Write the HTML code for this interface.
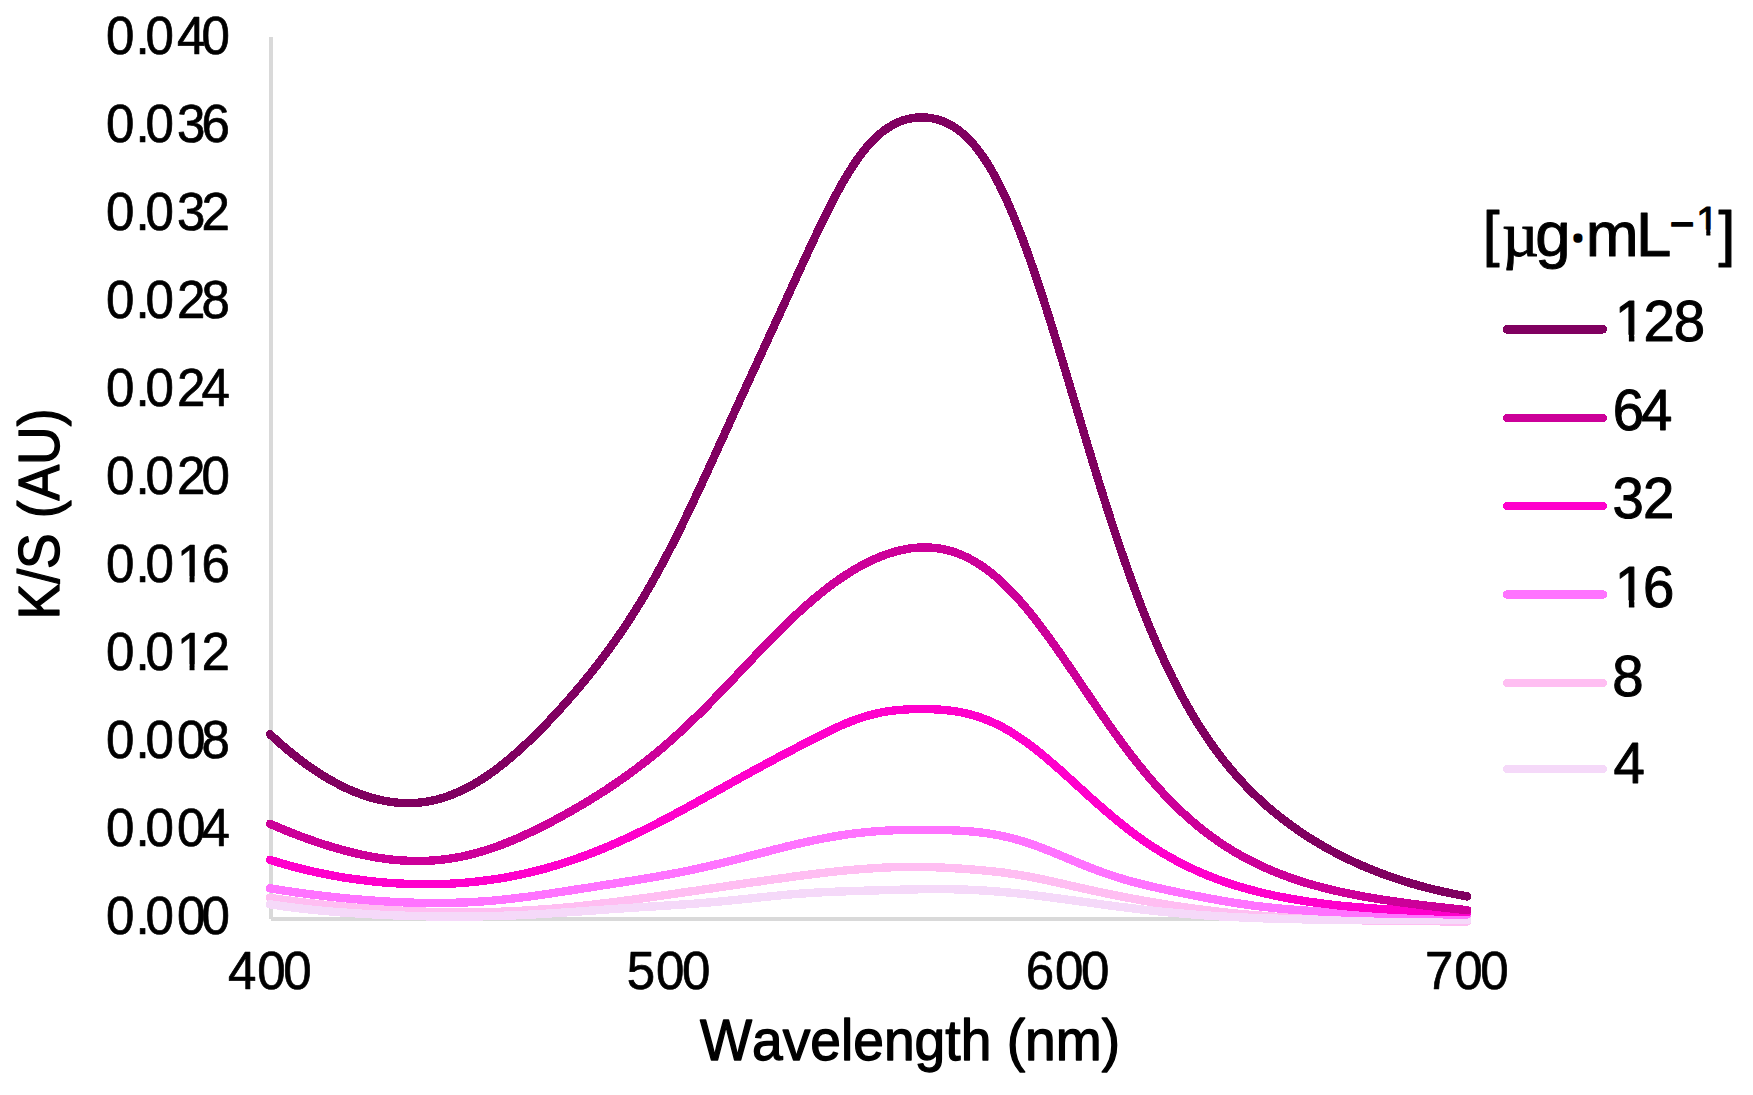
<!DOCTYPE html>
<html lang="en">
<head>
<meta charset="utf-8">
<title>K/S spectra</title>
<style>
html,body{margin:0;padding:0;background:#fff;}
body{width:1753px;height:1095px;overflow:hidden;}
svg{display:block;}
text{font-family:"Liberation Sans",sans-serif;fill:#000;stroke:#000;stroke-width:0.7px;stroke-linejoin:round;font-kerning:none;}
.tick{font-size:52.9px;}
.ttl{font-size:56.6px;stroke-width:1.3px;}
.leg{font-size:57.5px;stroke-width:1px;}
.lt{font-size:63.5px;stroke-width:1px;}
.curve{fill:none;stroke-width:8.4;stroke-linecap:round;stroke-linejoin:round;}
</style>
</head>
<body>
<svg width="1753" height="1095" viewBox="0 0 1753 1095">
<rect x="0" y="0" width="1753" height="1095" fill="#ffffff"/>
<defs>
<clipPath id="c1"><path clip-rule="evenodd" d="M0 0H1753V1095H0Z M178.8 576.33H189.59V584H178.8Z M194.51 576.33H203.89V584H194.51Z"/></clipPath>
<clipPath id="c2"><path clip-rule="evenodd" d="M0 0H1753V1095H0Z M178.8 664.33H189.59V672H178.8Z M194.51 664.33H203.89V672H194.51Z"/></clipPath>
<clipPath id="c3"><path clip-rule="evenodd" d="M0 0H1753V1095H0Z M1697.25 229.41H1706.31V236.2H1697.25Z M1710.37 229.41H1718.1V236.2H1710.37Z"/></clipPath>
<clipPath id="c4"><path clip-rule="evenodd" d="M0 0H1753V1095H0Z M1617.13 334.77H1628.9V342.8H1617.13Z M1634.31 334.77H1644.63V342.8H1634.31Z"/></clipPath>
<clipPath id="c5"><path clip-rule="evenodd" d="M0 0H1753V1095H0Z M1617.13 600.37H1628.9V608.4H1617.13Z M1634.31 600.37H1644.63V608.4H1634.31Z"/></clipPath>
</defs>
<!-- axes -->
<g shape-rendering="crispEdges">
<rect x="269" y="37" width="4" height="882" fill="#d9d9d9"/>
<rect x="271" y="917" width="1198" height="4" fill="#d9d9d9"/>
</g>
<!-- y tick labels -->
<text class="tick" transform="scale(0.965,1)" x="109.84 140.31 150.78 183.32 208.91" y="54.5">0.040</text>
<text class="tick" transform="scale(0.965,1)" x="109.84 140.31 150.78 183.32 208.91" y="142.5">0.036</text>
<text class="tick" transform="scale(0.965,1)" x="109.84 140.31 150.78 183.32 208.91" y="230.5">0.032</text>
<text class="tick" transform="scale(0.965,1)" x="109.84 140.31 150.78 183.32 208.91" y="318.5">0.028</text>
<text class="tick" transform="scale(0.965,1)" x="109.84 140.31 150.78 183.32 208.91" y="406.5">0.024</text>
<text class="tick" transform="scale(0.965,1)" x="109.84 140.31 150.78 183.32 208.91" y="494.5">0.020</text>
<g clip-path="url(#c1)"><text class="tick" transform="scale(0.965,1)" x="109.84 140.31 150.78 183.32 208.91" y="582.5">0.016</text></g>
<g clip-path="url(#c2)"><text class="tick" transform="scale(0.965,1)" x="109.84 140.31 150.78 183.32 208.91" y="670.5">0.012</text></g>
<text class="tick" transform="scale(0.965,1)" x="109.84 140.31 150.78 183.32 208.91" y="758.5">0.008</text>
<text class="tick" transform="scale(0.965,1)" x="109.84 140.31 150.78 183.32 208.91" y="846.5">0.004</text>
<text class="tick" transform="scale(0.965,1)" x="109.84 140.31 150.78 183.32 208.91" y="934.5">0.000</text>
<!-- x tick labels -->
<text class="tick" transform="scale(0.965,1)" x="236.27 266.63 293.58" y="988.7">400</text>
<text class="tick" transform="scale(0.965,1)" x="649.53 679.9 706.84" y="988.7">500</text>
<text class="tick" transform="scale(0.965,1)" x="1063.01 1093.37 1120.31" y="988.7">600</text>
<text class="tick" transform="scale(0.965,1)" x="1476.68 1507.05 1533.99" y="988.7">700</text>
<!-- axis titles -->
<g transform="translate(700,1060) scale(0.975,1)"><text class="ttl" x="0" y="0">Wavelength (nm)</text></g>
<g transform="translate(58.7,619.4) rotate(-90) scale(0.945,1)"><text class="ttl" x="0" y="0">K/S (AU)</text></g>
<!-- curves -->
<g shape-rendering="crispEdges">
<path class="curve" stroke="#ffbef2" d="M270.0 897.8 L273.0 898.2 L276.0 898.7 L279.0 899.1 L282.0 899.6 L285.0 900.0 L288.0 900.4 L291.0 900.8 L294.0 901.2 L297.0 901.6 L300.0 901.9 L303.0 902.3 L306.0 902.7 L309.0 903.0 L312.0 903.4 L315.0 903.7 L318.0 904.1 L321.0 904.4 L324.0 904.7 L327.0 905.0 L330.0 905.3 L333.0 905.6 L336.0 905.9 L339.0 906.2 L342.0 906.5 L345.0 906.7 L348.0 907.0 L351.0 907.3 L354.0 907.5 L357.0 907.8 L360.0 908.0 L363.0 908.2 L366.0 908.5 L369.0 908.7 L372.0 908.9 L375.0 909.1 L378.0 909.3 L381.0 909.5 L384.0 909.7 L387.0 909.9 L390.0 910.1 L393.0 910.2 L396.0 910.4 L399.0 910.5 L402.0 910.7 L405.0 910.8 L408.0 911.0 L411.0 911.1 L414.0 911.2 L417.0 911.4 L420.0 911.5 L423.0 911.6 L426.0 911.7 L429.0 911.8 L432.0 911.8 L435.0 911.9 L438.0 912.0 L441.0 912.1 L444.0 912.1 L447.0 912.2 L450.0 912.2 L453.0 912.2 L456.0 912.2 L459.0 912.3 L462.0 912.3 L465.0 912.3 L468.0 912.3 L471.0 912.3 L474.0 912.2 L477.0 912.2 L480.0 912.2 L483.0 912.1 L486.0 912.1 L489.0 912.0 L492.0 911.9 L495.0 911.8 L498.0 911.8 L501.0 911.7 L504.0 911.5 L507.0 911.4 L510.0 911.3 L513.0 911.2 L516.0 911.0 L519.0 910.9 L522.0 910.7 L525.0 910.6 L528.0 910.4 L531.0 910.2 L534.0 910.0 L537.0 909.8 L540.0 909.6 L543.0 909.4 L546.0 909.1 L549.0 908.9 L552.0 908.7 L555.0 908.4 L558.0 908.2 L561.0 907.9 L564.0 907.6 L567.0 907.3 L570.0 907.1 L573.0 906.8 L576.0 906.5 L579.0 906.1 L582.0 905.8 L585.0 905.5 L588.0 905.2 L591.0 904.8 L594.0 904.5 L597.0 904.2 L600.0 903.8 L603.0 903.4 L606.0 903.1 L609.0 902.7 L612.0 902.3 L615.0 902.0 L618.0 901.6 L621.0 901.2 L624.0 900.8 L627.0 900.4 L630.0 900.0 L633.0 899.6 L636.0 899.2 L639.0 898.8 L642.0 898.4 L645.0 898.0 L648.0 897.6 L651.0 897.1 L654.0 896.7 L657.0 896.3 L660.0 895.9 L663.0 895.4 L666.0 895.0 L669.0 894.6 L672.0 894.1 L675.0 893.7 L678.0 893.3 L681.0 892.8 L684.0 892.4 L687.0 892.0 L690.0 891.5 L693.0 891.1 L696.0 890.7 L699.0 890.2 L702.0 889.8 L705.0 889.3 L708.0 888.9 L711.0 888.5 L714.0 888.0 L717.0 887.6 L720.0 887.1 L723.0 886.7 L726.0 886.3 L729.0 885.8 L732.0 885.4 L735.0 884.9 L738.0 884.5 L741.0 884.1 L744.0 883.6 L747.0 883.2 L750.0 882.8 L753.0 882.3 L756.0 881.9 L759.0 881.5 L762.0 881.0 L765.0 880.6 L768.0 880.2 L771.0 879.7 L774.0 879.3 L777.0 878.9 L780.0 878.5 L783.0 878.1 L786.0 877.7 L789.0 877.2 L792.0 876.8 L795.0 876.4 L798.0 876.0 L801.0 875.6 L804.0 875.3 L807.0 874.9 L810.0 874.5 L813.0 874.1 L816.0 873.7 L819.0 873.4 L822.0 873.0 L825.0 872.7 L828.0 872.3 L831.0 872.0 L834.0 871.7 L837.0 871.3 L840.0 871.0 L843.0 870.7 L846.0 870.4 L849.0 870.1 L852.0 869.9 L855.0 869.6 L858.0 869.4 L861.0 869.1 L864.0 868.9 L867.0 868.7 L870.0 868.4 L873.0 868.3 L876.0 868.1 L879.0 867.9 L882.0 867.7 L885.0 867.6 L888.0 867.5 L891.0 867.3 L894.0 867.2 L897.0 867.1 L900.0 867.1 L903.0 867.0 L906.0 867.0 L909.0 866.9 L912.0 866.9 L915.0 866.9 L918.0 866.9 L921.0 867.0 L924.0 867.0 L927.0 867.1 L930.0 867.1 L933.0 867.2 L936.0 867.3 L939.0 867.4 L942.0 867.6 L945.0 867.7 L948.0 867.8 L951.0 868.0 L954.0 868.2 L957.0 868.4 L960.0 868.6 L963.0 868.8 L966.0 869.0 L969.0 869.2 L972.0 869.4 L975.0 869.7 L978.0 869.9 L981.0 870.2 L984.0 870.5 L987.0 870.8 L990.0 871.1 L993.0 871.4 L996.0 871.7 L999.0 872.1 L1002.0 872.4 L1005.0 872.8 L1008.0 873.2 L1011.0 873.7 L1014.0 874.1 L1017.0 874.6 L1020.0 875.1 L1023.0 875.6 L1026.0 876.1 L1029.0 876.6 L1032.0 877.2 L1035.0 877.8 L1038.0 878.4 L1041.0 879.0 L1044.0 879.6 L1047.0 880.3 L1050.0 880.9 L1053.0 881.6 L1056.0 882.3 L1059.0 883.0 L1062.0 883.6 L1065.0 884.3 L1068.0 885.0 L1071.0 885.7 L1074.0 886.4 L1077.0 887.1 L1080.0 887.7 L1083.0 888.4 L1086.0 889.1 L1089.0 889.7 L1092.0 890.4 L1095.0 891.0 L1098.0 891.7 L1101.0 892.3 L1104.0 893.0 L1107.0 893.6 L1110.0 894.2 L1113.0 894.8 L1116.0 895.4 L1119.0 896.0 L1122.0 896.6 L1125.0 897.2 L1128.0 897.7 L1131.0 898.3 L1134.0 898.9 L1137.0 899.4 L1140.0 900.0 L1143.0 900.5 L1146.0 901.1 L1149.0 901.6 L1152.0 902.1 L1155.0 902.6 L1158.0 903.1 L1161.0 903.6 L1164.0 904.1 L1167.0 904.6 L1170.0 905.1 L1173.0 905.6 L1176.0 906.0 L1179.0 906.5 L1182.0 906.9 L1185.0 907.4 L1188.0 907.8 L1191.0 908.2 L1194.0 908.6 L1197.0 909.0 L1200.0 909.4 L1203.0 909.8 L1206.0 910.2 L1209.0 910.5 L1212.0 910.9 L1215.0 911.3 L1218.0 911.6 L1221.0 911.9 L1224.0 912.3 L1227.0 912.6 L1230.0 912.9 L1233.0 913.2 L1236.0 913.5 L1239.0 913.8 L1242.0 914.1 L1245.0 914.3 L1248.0 914.6 L1251.0 914.9 L1254.0 915.1 L1257.0 915.4 L1260.0 915.6 L1263.0 915.8 L1266.0 916.1 L1269.0 916.3 L1272.0 916.5 L1275.0 916.7 L1278.0 916.9 L1281.0 917.1 L1284.0 917.3 L1287.0 917.4 L1290.0 917.6 L1293.0 917.8 L1296.0 917.9 L1299.0 918.1 L1302.0 918.2 L1305.0 918.4 L1308.0 918.5 L1311.0 918.6 L1314.0 918.8 L1317.0 918.9 L1320.0 919.0 L1323.0 919.1 L1326.0 919.2 L1329.0 919.3 L1332.0 919.5 L1335.0 919.5 L1338.0 919.6 L1341.0 919.7 L1344.0 919.8 L1347.0 919.9 L1350.0 920.0 L1353.0 920.1 L1356.0 920.1 L1359.0 920.2 L1362.0 920.3 L1365.0 920.3 L1368.0 920.4 L1371.0 920.5 L1374.0 920.5 L1377.0 920.6 L1380.0 920.6 L1383.0 920.7 L1386.0 920.7 L1389.0 920.8 L1392.0 920.8 L1395.0 920.8 L1398.0 920.9 L1401.0 920.9 L1404.0 920.9 L1407.0 921.0 L1410.0 921.0 L1413.0 921.0 L1416.0 921.1 L1419.0 921.1 L1422.0 921.1 L1425.0 921.1 L1428.0 921.2 L1431.0 921.2 L1434.0 921.2 L1437.0 921.2 L1440.0 921.3 L1443.0 921.3 L1446.0 921.3 L1449.0 921.3 L1452.0 921.3 L1455.0 921.3 L1458.0 921.3 L1461.0 921.4 L1464.0 921.4 L1467.3 921.4"/>
<path class="curve" stroke="#f5d9f9" d="M270.0 904.3 L273.0 904.7 L276.0 905.2 L279.0 905.6 L282.0 906.1 L285.0 906.5 L288.0 906.9 L291.0 907.3 L294.0 907.6 L297.0 908.0 L300.0 908.4 L303.0 908.7 L306.0 909.1 L309.0 909.4 L312.0 909.7 L315.0 910.0 L318.0 910.3 L321.0 910.6 L324.0 910.9 L327.0 911.1 L330.0 911.4 L333.0 911.7 L336.0 911.9 L339.0 912.2 L342.0 912.4 L345.0 912.6 L348.0 912.8 L351.0 913.0 L354.0 913.2 L357.0 913.4 L360.0 913.6 L363.0 913.8 L366.0 914.0 L369.0 914.2 L372.0 914.3 L375.0 914.5 L378.0 914.6 L381.0 914.8 L384.0 914.9 L387.0 915.0 L390.0 915.2 L393.0 915.3 L396.0 915.4 L399.0 915.5 L402.0 915.6 L405.0 915.7 L408.0 915.8 L411.0 915.9 L414.0 916.0 L417.0 916.1 L420.0 916.1 L423.0 916.2 L426.0 916.3 L429.0 916.3 L432.0 916.4 L435.0 916.4 L438.0 916.5 L441.0 916.5 L444.0 916.5 L447.0 916.5 L450.0 916.5 L453.0 916.6 L456.0 916.6 L459.0 916.5 L462.0 916.5 L465.0 916.5 L468.0 916.5 L471.0 916.5 L474.0 916.4 L477.0 916.4 L480.0 916.3 L483.0 916.3 L486.0 916.2 L489.0 916.2 L492.0 916.1 L495.0 916.0 L498.0 915.9 L501.0 915.8 L504.0 915.7 L507.0 915.6 L510.0 915.5 L513.0 915.4 L516.0 915.3 L519.0 915.1 L522.0 915.0 L525.0 914.8 L528.0 914.7 L531.0 914.5 L534.0 914.4 L537.0 914.2 L540.0 914.0 L543.0 913.9 L546.0 913.7 L549.0 913.5 L552.0 913.3 L555.0 913.1 L558.0 912.9 L561.0 912.7 L564.0 912.5 L567.0 912.3 L570.0 912.1 L573.0 911.9 L576.0 911.7 L579.0 911.5 L582.0 911.3 L585.0 911.1 L588.0 910.8 L591.0 910.6 L594.0 910.4 L597.0 910.2 L600.0 910.0 L603.0 909.8 L606.0 909.6 L609.0 909.3 L612.0 909.1 L615.0 908.9 L618.0 908.7 L621.0 908.5 L624.0 908.3 L627.0 908.1 L630.0 907.9 L633.0 907.7 L636.0 907.5 L639.0 907.3 L642.0 907.1 L645.0 906.9 L648.0 906.7 L651.0 906.6 L654.0 906.4 L657.0 906.2 L660.0 906.0 L663.0 905.8 L666.0 905.6 L669.0 905.4 L672.0 905.2 L675.0 905.0 L678.0 904.8 L681.0 904.6 L684.0 904.4 L687.0 904.2 L690.0 904.0 L693.0 903.8 L696.0 903.5 L699.0 903.3 L702.0 903.1 L705.0 902.8 L708.0 902.6 L711.0 902.3 L714.0 902.1 L717.0 901.8 L720.0 901.5 L723.0 901.2 L726.0 900.9 L729.0 900.6 L732.0 900.3 L735.0 900.0 L738.0 899.7 L741.0 899.4 L744.0 899.1 L747.0 898.8 L750.0 898.5 L753.0 898.1 L756.0 897.8 L759.0 897.5 L762.0 897.2 L765.0 896.9 L768.0 896.6 L771.0 896.3 L774.0 896.0 L777.0 895.7 L780.0 895.4 L783.0 895.1 L786.0 894.8 L789.0 894.6 L792.0 894.3 L795.0 894.1 L798.0 893.8 L801.0 893.6 L804.0 893.4 L807.0 893.2 L810.0 893.0 L813.0 892.8 L816.0 892.6 L819.0 892.5 L822.0 892.3 L825.0 892.2 L828.0 892.0 L831.0 891.9 L834.0 891.8 L837.0 891.6 L840.0 891.5 L843.0 891.4 L846.0 891.3 L849.0 891.2 L852.0 891.1 L855.0 891.0 L858.0 890.9 L861.0 890.8 L864.0 890.7 L867.0 890.6 L870.0 890.5 L873.0 890.4 L876.0 890.3 L879.0 890.3 L882.0 890.2 L885.0 890.1 L888.0 890.0 L891.0 889.9 L894.0 889.8 L897.0 889.7 L900.0 889.7 L903.0 889.6 L906.0 889.5 L909.0 889.4 L912.0 889.4 L915.0 889.3 L918.0 889.3 L921.0 889.2 L924.0 889.2 L927.0 889.2 L930.0 889.1 L933.0 889.1 L936.0 889.1 L939.0 889.1 L942.0 889.1 L945.0 889.2 L948.0 889.2 L951.0 889.2 L954.0 889.3 L957.0 889.4 L960.0 889.4 L963.0 889.5 L966.0 889.6 L969.0 889.8 L972.0 889.9 L975.0 890.0 L978.0 890.2 L981.0 890.4 L984.0 890.5 L987.0 890.7 L990.0 890.9 L993.0 891.2 L996.0 891.4 L999.0 891.6 L1002.0 891.9 L1005.0 892.2 L1008.0 892.4 L1011.0 892.7 L1014.0 893.0 L1017.0 893.3 L1020.0 893.7 L1023.0 894.0 L1026.0 894.3 L1029.0 894.7 L1032.0 895.0 L1035.0 895.4 L1038.0 895.7 L1041.0 896.1 L1044.0 896.5 L1047.0 896.9 L1050.0 897.3 L1053.0 897.7 L1056.0 898.1 L1059.0 898.5 L1062.0 898.9 L1065.0 899.3 L1068.0 899.7 L1071.0 900.1 L1074.0 900.5 L1077.0 900.9 L1080.0 901.4 L1083.0 901.8 L1086.0 902.2 L1089.0 902.6 L1092.0 903.0 L1095.0 903.4 L1098.0 903.9 L1101.0 904.3 L1104.0 904.7 L1107.0 905.1 L1110.0 905.5 L1113.0 905.9 L1116.0 906.3 L1119.0 906.7 L1122.0 907.0 L1125.0 907.4 L1128.0 907.8 L1131.0 908.2 L1134.0 908.5 L1137.0 908.9 L1140.0 909.3 L1143.0 909.6 L1146.0 910.0 L1149.0 910.3 L1152.0 910.6 L1155.0 910.9 L1158.0 911.3 L1161.0 911.6 L1164.0 911.9 L1167.0 912.2 L1170.0 912.5 L1173.0 912.7 L1176.0 913.0 L1179.0 913.3 L1182.0 913.6 L1185.0 913.8 L1188.0 914.1 L1191.0 914.3 L1194.0 914.5 L1197.0 914.8 L1200.0 915.0 L1203.0 915.2 L1206.0 915.4 L1209.0 915.6 L1212.0 915.8 L1215.0 916.0 L1218.0 916.2 L1221.0 916.4 L1224.0 916.5 L1227.0 916.7 L1230.0 916.9 L1233.0 917.0 L1236.0 917.2 L1239.0 917.3 L1242.0 917.4 L1245.0 917.6 L1248.0 917.7 L1251.0 917.8 L1254.0 917.9 L1257.0 918.1 L1260.0 918.2 L1263.0 918.3 L1266.0 918.4 L1269.0 918.5 L1272.0 918.5 L1275.0 918.6 L1278.0 918.7 L1281.0 918.8 L1284.0 918.9 L1287.0 918.9 L1290.0 919.0 L1293.0 919.1 L1296.0 919.1 L1299.0 919.2 L1302.0 919.3 L1305.0 919.3 L1308.0 919.4 L1311.0 919.4 L1314.0 919.4 L1317.0 919.5 L1320.0 919.5 L1323.0 919.6 L1326.0 919.6 L1329.0 919.6 L1332.0 919.7 L1335.0 919.7 L1338.0 919.7 L1341.0 919.8 L1344.0 919.8 L1347.0 919.8 L1350.0 919.8 L1353.0 919.9 L1356.0 919.9 L1359.0 919.9 L1362.0 919.9 L1365.0 919.9 L1368.0 919.9 L1371.0 920.0 L1374.0 920.0 L1377.0 920.0 L1380.0 920.0 L1383.0 920.0 L1386.0 920.0 L1389.0 920.0 L1392.0 920.0 L1395.0 920.1 L1398.0 920.1 L1401.0 920.1 L1404.0 920.1 L1407.0 920.1 L1410.0 920.1 L1413.0 920.1 L1416.0 920.1 L1419.0 920.1 L1422.0 920.1 L1425.0 920.1 L1428.0 920.1 L1431.0 920.1 L1434.0 920.1 L1437.0 920.1 L1440.0 920.1 L1443.0 920.1 L1446.0 920.1 L1449.0 920.1 L1452.0 920.1 L1455.0 920.1 L1458.0 920.1 L1461.0 920.1 L1464.0 920.1 L1467.3 920.1"/>
<path class="curve" stroke="#ff73ff" d="M270.0 888.2 L273.0 888.7 L276.0 889.2 L279.0 889.7 L282.0 890.2 L285.0 890.7 L288.0 891.1 L291.0 891.6 L294.0 892.0 L297.0 892.5 L300.0 892.9 L303.0 893.3 L306.0 893.7 L309.0 894.1 L312.0 894.5 L315.0 894.9 L318.0 895.2 L321.0 895.6 L324.0 896.0 L327.0 896.3 L330.0 896.6 L333.0 897.0 L336.0 897.3 L339.0 897.6 L342.0 897.9 L345.0 898.2 L348.0 898.5 L351.0 898.8 L354.0 899.0 L357.0 899.3 L360.0 899.6 L363.0 899.8 L366.0 900.0 L369.0 900.3 L372.0 900.5 L375.0 900.7 L378.0 900.9 L381.0 901.1 L384.0 901.3 L387.0 901.5 L390.0 901.7 L393.0 901.8 L396.0 902.0 L399.0 902.1 L402.0 902.2 L405.0 902.4 L408.0 902.5 L411.0 902.6 L414.0 902.7 L417.0 902.8 L420.0 902.8 L423.0 902.9 L426.0 902.9 L429.0 903.0 L432.0 903.0 L435.0 903.0 L438.0 903.0 L441.0 903.0 L444.0 903.0 L447.0 902.9 L450.0 902.9 L453.0 902.8 L456.0 902.7 L459.0 902.6 L462.0 902.5 L465.0 902.4 L468.0 902.3 L471.0 902.1 L474.0 901.9 L477.0 901.8 L480.0 901.6 L483.0 901.4 L486.0 901.1 L489.0 900.9 L492.0 900.7 L495.0 900.4 L498.0 900.1 L501.0 899.8 L504.0 899.5 L507.0 899.2 L510.0 898.9 L513.0 898.5 L516.0 898.2 L519.0 897.8 L522.0 897.4 L525.0 897.1 L528.0 896.7 L531.0 896.3 L534.0 895.9 L537.0 895.4 L540.0 895.0 L543.0 894.6 L546.0 894.1 L549.0 893.7 L552.0 893.3 L555.0 892.8 L558.0 892.3 L561.0 891.9 L564.0 891.4 L567.0 891.0 L570.0 890.5 L573.0 890.0 L576.0 889.5 L579.0 889.1 L582.0 888.6 L585.0 888.1 L588.0 887.7 L591.0 887.2 L594.0 886.7 L597.0 886.2 L600.0 885.8 L603.0 885.3 L606.0 884.8 L609.0 884.4 L612.0 883.9 L615.0 883.4 L618.0 883.0 L621.0 882.5 L624.0 882.0 L627.0 881.5 L630.0 881.0 L633.0 880.6 L636.0 880.1 L639.0 879.6 L642.0 879.1 L645.0 878.6 L648.0 878.1 L651.0 877.6 L654.0 877.1 L657.0 876.6 L660.0 876.0 L663.0 875.5 L666.0 874.9 L669.0 874.4 L672.0 873.8 L675.0 873.3 L678.0 872.7 L681.0 872.1 L684.0 871.5 L687.0 870.9 L690.0 870.3 L693.0 869.6 L696.0 869.0 L699.0 868.3 L702.0 867.7 L705.0 867.0 L708.0 866.3 L711.0 865.6 L714.0 864.9 L717.0 864.2 L720.0 863.5 L723.0 862.8 L726.0 862.0 L729.0 861.3 L732.0 860.5 L735.0 859.8 L738.0 859.0 L741.0 858.3 L744.0 857.5 L747.0 856.7 L750.0 855.9 L753.0 855.2 L756.0 854.4 L759.0 853.6 L762.0 852.8 L765.0 852.1 L768.0 851.3 L771.0 850.5 L774.0 849.7 L777.0 849.0 L780.0 848.2 L783.0 847.5 L786.0 846.7 L789.0 846.0 L792.0 845.3 L795.0 844.5 L798.0 843.8 L801.0 843.1 L804.0 842.5 L807.0 841.8 L810.0 841.1 L813.0 840.5 L816.0 839.9 L819.0 839.3 L822.0 838.7 L825.0 838.1 L828.0 837.5 L831.0 837.0 L834.0 836.5 L837.0 836.0 L840.0 835.5 L843.0 835.0 L846.0 834.6 L849.0 834.2 L852.0 833.8 L855.0 833.4 L858.0 833.0 L861.0 832.7 L864.0 832.4 L867.0 832.1 L870.0 831.8 L873.0 831.5 L876.0 831.3 L879.0 831.1 L882.0 830.9 L885.0 830.7 L888.0 830.5 L891.0 830.4 L894.0 830.2 L897.0 830.1 L900.0 830.0 L903.0 829.9 L906.0 829.9 L909.0 829.8 L912.0 829.8 L915.0 829.7 L918.0 829.7 L921.0 829.7 L924.0 829.7 L927.0 829.7 L930.0 829.7 L933.0 829.8 L936.0 829.8 L939.0 829.9 L942.0 829.9 L945.0 830.0 L948.0 830.1 L951.0 830.2 L954.0 830.4 L957.0 830.5 L960.0 830.7 L963.0 830.9 L966.0 831.1 L969.0 831.3 L972.0 831.5 L975.0 831.8 L978.0 832.1 L981.0 832.5 L984.0 832.9 L987.0 833.3 L990.0 833.7 L993.0 834.2 L996.0 834.7 L999.0 835.3 L1002.0 835.9 L1005.0 836.6 L1008.0 837.3 L1011.0 838.0 L1014.0 838.8 L1017.0 839.6 L1020.0 840.5 L1023.0 841.4 L1026.0 842.3 L1029.0 843.3 L1032.0 844.3 L1035.0 845.4 L1038.0 846.5 L1041.0 847.6 L1044.0 848.8 L1047.0 850.0 L1050.0 851.1 L1053.0 852.4 L1056.0 853.6 L1059.0 854.8 L1062.0 856.1 L1065.0 857.3 L1068.0 858.6 L1071.0 859.8 L1074.0 861.1 L1077.0 862.3 L1080.0 863.6 L1083.0 864.8 L1086.0 866.0 L1089.0 867.2 L1092.0 868.4 L1095.0 869.5 L1098.0 870.6 L1101.0 871.7 L1104.0 872.8 L1107.0 873.8 L1110.0 874.9 L1113.0 875.9 L1116.0 876.8 L1119.0 877.8 L1122.0 878.7 L1125.0 879.6 L1128.0 880.5 L1131.0 881.3 L1134.0 882.1 L1137.0 882.9 L1140.0 883.7 L1143.0 884.4 L1146.0 885.2 L1149.0 885.9 L1152.0 886.6 L1155.0 887.3 L1158.0 888.0 L1161.0 888.6 L1164.0 889.3 L1167.0 889.9 L1170.0 890.6 L1173.0 891.2 L1176.0 891.8 L1179.0 892.5 L1182.0 893.1 L1185.0 893.7 L1188.0 894.3 L1191.0 894.9 L1194.0 895.5 L1197.0 896.1 L1200.0 896.6 L1203.0 897.2 L1206.0 897.8 L1209.0 898.4 L1212.0 898.9 L1215.0 899.5 L1218.0 900.0 L1221.0 900.5 L1224.0 901.1 L1227.0 901.6 L1230.0 902.1 L1233.0 902.6 L1236.0 903.1 L1239.0 903.5 L1242.0 904.0 L1245.0 904.4 L1248.0 904.8 L1251.0 905.3 L1254.0 905.7 L1257.0 906.0 L1260.0 906.4 L1263.0 906.8 L1266.0 907.1 L1269.0 907.4 L1272.0 907.8 L1275.0 908.1 L1278.0 908.4 L1281.0 908.6 L1284.0 908.9 L1287.0 909.2 L1290.0 909.4 L1293.0 909.6 L1296.0 909.9 L1299.0 910.1 L1302.0 910.3 L1305.0 910.5 L1308.0 910.7 L1311.0 910.9 L1314.0 911.0 L1317.0 911.2 L1320.0 911.4 L1323.0 911.5 L1326.0 911.7 L1329.0 911.8 L1332.0 911.9 L1335.0 912.1 L1338.0 912.2 L1341.0 912.3 L1344.0 912.4 L1347.0 912.5 L1350.0 912.6 L1353.0 912.7 L1356.0 912.8 L1359.0 912.9 L1362.0 913.0 L1365.0 913.1 L1368.0 913.1 L1371.0 913.2 L1374.0 913.3 L1377.0 913.4 L1380.0 913.4 L1383.0 913.5 L1386.0 913.5 L1389.0 913.6 L1392.0 913.7 L1395.0 913.7 L1398.0 913.8 L1401.0 913.8 L1404.0 913.8 L1407.0 913.9 L1410.0 913.9 L1413.0 914.0 L1416.0 914.0 L1419.0 914.0 L1422.0 914.1 L1425.0 914.1 L1428.0 914.1 L1431.0 914.2 L1434.0 914.2 L1437.0 914.2 L1440.0 914.2 L1443.0 914.3 L1446.0 914.3 L1449.0 914.3 L1452.0 914.3 L1455.0 914.3 L1458.0 914.4 L1461.0 914.4 L1464.0 914.4 L1467.3 914.4"/>
<path class="curve" stroke="#ff00cc" d="M270.0 859.8 L273.0 860.8 L276.0 861.7 L279.0 862.6 L282.0 863.5 L285.0 864.4 L288.0 865.2 L291.0 866.1 L294.0 866.9 L297.0 867.6 L300.0 868.4 L303.0 869.2 L306.0 869.9 L309.0 870.6 L312.0 871.3 L315.0 872.0 L318.0 872.6 L321.0 873.2 L324.0 873.9 L327.0 874.5 L330.0 875.0 L333.0 875.6 L336.0 876.1 L339.0 876.7 L342.0 877.2 L345.0 877.7 L348.0 878.1 L351.0 878.6 L354.0 879.0 L357.0 879.4 L360.0 879.8 L363.0 880.2 L366.0 880.6 L369.0 880.9 L372.0 881.3 L375.0 881.6 L378.0 881.9 L381.0 882.2 L384.0 882.4 L387.0 882.7 L390.0 882.9 L393.0 883.1 L396.0 883.3 L399.0 883.5 L402.0 883.6 L405.0 883.8 L408.0 883.9 L411.0 884.0 L414.0 884.1 L417.0 884.2 L420.0 884.2 L423.0 884.2 L426.0 884.2 L429.0 884.2 L432.0 884.2 L435.0 884.2 L438.0 884.1 L441.0 884.0 L444.0 883.9 L447.0 883.8 L450.0 883.7 L453.0 883.5 L456.0 883.3 L459.0 883.1 L462.0 882.9 L465.0 882.7 L468.0 882.4 L471.0 882.1 L474.0 881.8 L477.0 881.5 L480.0 881.2 L483.0 880.8 L486.0 880.4 L489.0 880.0 L492.0 879.6 L495.0 879.2 L498.0 878.7 L501.0 878.2 L504.0 877.7 L507.0 877.2 L510.0 876.6 L513.0 876.0 L516.0 875.4 L519.0 874.8 L522.0 874.2 L525.0 873.5 L528.0 872.8 L531.0 872.1 L534.0 871.4 L537.0 870.6 L540.0 869.9 L543.0 869.1 L546.0 868.3 L549.0 867.4 L552.0 866.5 L555.0 865.7 L558.0 864.8 L561.0 863.8 L564.0 862.9 L567.0 861.9 L570.0 860.9 L573.0 859.9 L576.0 858.9 L579.0 857.8 L582.0 856.7 L585.0 855.6 L588.0 854.5 L591.0 853.4 L594.0 852.2 L597.0 851.0 L600.0 849.8 L603.0 848.6 L606.0 847.3 L609.0 846.1 L612.0 844.8 L615.0 843.5 L618.0 842.2 L621.0 840.8 L624.0 839.5 L627.0 838.1 L630.0 836.7 L633.0 835.3 L636.0 833.9 L639.0 832.4 L642.0 831.0 L645.0 829.5 L648.0 828.0 L651.0 826.5 L654.0 825.0 L657.0 823.5 L660.0 821.9 L663.0 820.4 L666.0 818.8 L669.0 817.2 L672.0 815.6 L675.0 814.0 L678.0 812.4 L681.0 810.8 L684.0 809.2 L687.0 807.5 L690.0 805.9 L693.0 804.2 L696.0 802.6 L699.0 800.9 L702.0 799.3 L705.0 797.6 L708.0 795.9 L711.0 794.3 L714.0 792.6 L717.0 790.9 L720.0 789.2 L723.0 787.6 L726.0 785.9 L729.0 784.2 L732.0 782.5 L735.0 780.9 L738.0 779.2 L741.0 777.5 L744.0 775.9 L747.0 774.2 L750.0 772.6 L753.0 770.9 L756.0 769.3 L759.0 767.7 L762.0 766.1 L765.0 764.4 L768.0 762.8 L771.0 761.2 L774.0 759.6 L777.0 758.0 L780.0 756.4 L783.0 754.8 L786.0 753.3 L789.0 751.7 L792.0 750.1 L795.0 748.5 L798.0 747.0 L801.0 745.4 L804.0 743.8 L807.0 742.3 L810.0 740.7 L813.0 739.2 L816.0 737.7 L819.0 736.1 L822.0 734.6 L825.0 733.1 L828.0 731.7 L831.0 730.2 L834.0 728.8 L837.0 727.4 L840.0 726.0 L843.0 724.7 L846.0 723.4 L849.0 722.2 L852.0 721.0 L855.0 719.9 L858.0 718.8 L861.0 717.8 L864.0 716.8 L867.0 715.9 L870.0 715.1 L873.0 714.3 L876.0 713.6 L879.0 712.9 L882.0 712.3 L885.0 711.8 L888.0 711.3 L891.0 710.9 L894.0 710.5 L897.0 710.2 L900.0 709.9 L903.0 709.7 L906.0 709.5 L909.0 709.3 L912.0 709.2 L915.0 709.1 L918.0 709.0 L921.0 709.0 L924.0 709.0 L927.0 709.0 L930.0 709.1 L933.0 709.2 L936.0 709.4 L939.0 709.5 L942.0 709.8 L945.0 710.0 L948.0 710.4 L951.0 710.7 L954.0 711.1 L957.0 711.6 L960.0 712.1 L963.0 712.7 L966.0 713.4 L969.0 714.1 L972.0 714.9 L975.0 715.8 L978.0 716.7 L981.0 717.7 L984.0 718.8 L987.0 720.0 L990.0 721.2 L993.0 722.5 L996.0 723.9 L999.0 725.4 L1002.0 726.9 L1005.0 728.6 L1008.0 730.3 L1011.0 732.1 L1014.0 733.9 L1017.0 735.9 L1020.0 737.9 L1023.0 739.9 L1026.0 742.1 L1029.0 744.3 L1032.0 746.5 L1035.0 748.8 L1038.0 751.2 L1041.0 753.6 L1044.0 756.1 L1047.0 758.6 L1050.0 761.2 L1053.0 763.8 L1056.0 766.4 L1059.0 769.0 L1062.0 771.7 L1065.0 774.4 L1068.0 777.1 L1071.0 779.8 L1074.0 782.6 L1077.0 785.3 L1080.0 788.0 L1083.0 790.7 L1086.0 793.5 L1089.0 796.2 L1092.0 798.9 L1095.0 801.5 L1098.0 804.2 L1101.0 806.8 L1104.0 809.4 L1107.0 812.0 L1110.0 814.6 L1113.0 817.1 L1116.0 819.6 L1119.0 822.0 L1122.0 824.4 L1125.0 826.8 L1128.0 829.2 L1131.0 831.4 L1134.0 833.7 L1137.0 835.9 L1140.0 838.1 L1143.0 840.2 L1146.0 842.3 L1149.0 844.3 L1152.0 846.3 L1155.0 848.2 L1158.0 850.1 L1161.0 852.0 L1164.0 853.8 L1167.0 855.5 L1170.0 857.3 L1173.0 858.9 L1176.0 860.6 L1179.0 862.2 L1182.0 863.7 L1185.0 865.2 L1188.0 866.7 L1191.0 868.1 L1194.0 869.5 L1197.0 870.9 L1200.0 872.2 L1203.0 873.5 L1206.0 874.8 L1209.0 876.0 L1212.0 877.2 L1215.0 878.3 L1218.0 879.5 L1221.0 880.5 L1224.0 881.6 L1227.0 882.6 L1230.0 883.6 L1233.0 884.6 L1236.0 885.6 L1239.0 886.5 L1242.0 887.4 L1245.0 888.2 L1248.0 889.1 L1251.0 889.9 L1254.0 890.7 L1257.0 891.5 L1260.0 892.2 L1263.0 893.0 L1266.0 893.7 L1269.0 894.3 L1272.0 895.0 L1275.0 895.7 L1278.0 896.3 L1281.0 896.9 L1284.0 897.5 L1287.0 898.0 L1290.0 898.6 L1293.0 899.1 L1296.0 899.6 L1299.0 900.1 L1302.0 900.6 L1305.0 901.1 L1308.0 901.6 L1311.0 902.0 L1314.0 902.4 L1317.0 902.8 L1320.0 903.2 L1323.0 903.6 L1326.0 904.0 L1329.0 904.3 L1332.0 904.7 L1335.0 905.0 L1338.0 905.4 L1341.0 905.7 L1344.0 906.0 L1347.0 906.3 L1350.0 906.5 L1353.0 906.8 L1356.0 907.1 L1359.0 907.3 L1362.0 907.6 L1365.0 907.8 L1368.0 908.0 L1371.0 908.2 L1374.0 908.5 L1377.0 908.7 L1380.0 908.9 L1383.0 909.0 L1386.0 909.2 L1389.0 909.4 L1392.0 909.6 L1395.0 909.7 L1398.0 909.9 L1401.0 910.0 L1404.0 910.2 L1407.0 910.3 L1410.0 910.4 L1413.0 910.6 L1416.0 910.7 L1419.0 910.8 L1422.0 910.9 L1425.0 911.0 L1428.0 911.1 L1431.0 911.2 L1434.0 911.3 L1437.0 911.4 L1440.0 911.5 L1443.0 911.6 L1446.0 911.6 L1449.0 911.7 L1452.0 911.8 L1455.0 911.9 L1458.0 911.9 L1461.0 912.0 L1464.0 912.0 L1467.3 912.1"/>
<path class="curve" stroke="#cc0099" d="M270.0 823.8 L273.0 825.1 L276.0 826.4 L279.0 827.7 L282.0 828.9 L285.0 830.2 L288.0 831.4 L291.0 832.6 L294.0 833.8 L297.0 834.9 L300.0 836.1 L303.0 837.2 L306.0 838.3 L309.0 839.4 L312.0 840.4 L315.0 841.5 L318.0 842.5 L321.0 843.5 L324.0 844.5 L327.0 845.4 L330.0 846.3 L333.0 847.2 L336.0 848.1 L339.0 849.0 L342.0 849.8 L345.0 850.6 L348.0 851.4 L351.0 852.1 L354.0 852.9 L357.0 853.6 L360.0 854.3 L363.0 854.9 L366.0 855.5 L369.0 856.1 L372.0 856.7 L375.0 857.2 L378.0 857.7 L381.0 858.2 L384.0 858.6 L387.0 859.0 L390.0 859.4 L393.0 859.7 L396.0 860.0 L399.0 860.2 L402.0 860.5 L405.0 860.6 L408.0 860.8 L411.0 860.9 L414.0 861.0 L417.0 861.0 L420.0 861.0 L423.0 861.0 L426.0 860.9 L429.0 860.7 L432.0 860.6 L435.0 860.3 L438.0 860.1 L441.0 859.8 L444.0 859.4 L447.0 859.0 L450.0 858.6 L453.0 858.1 L456.0 857.6 L459.0 857.1 L462.0 856.5 L465.0 855.8 L468.0 855.1 L471.0 854.4 L474.0 853.6 L477.0 852.8 L480.0 852.0 L483.0 851.1 L486.0 850.2 L489.0 849.2 L492.0 848.2 L495.0 847.2 L498.0 846.1 L501.0 845.0 L504.0 843.8 L507.0 842.6 L510.0 841.4 L513.0 840.2 L516.0 838.9 L519.0 837.6 L522.0 836.3 L525.0 834.9 L528.0 833.5 L531.0 832.1 L534.0 830.7 L537.0 829.2 L540.0 827.7 L543.0 826.2 L546.0 824.7 L549.0 823.1 L552.0 821.6 L555.0 820.0 L558.0 818.4 L561.0 816.7 L564.0 815.1 L567.0 813.4 L570.0 811.7 L573.0 810.0 L576.0 808.3 L579.0 806.5 L582.0 804.8 L585.0 803.0 L588.0 801.2 L591.0 799.3 L594.0 797.5 L597.0 795.6 L600.0 793.7 L603.0 791.8 L606.0 789.9 L609.0 787.9 L612.0 785.9 L615.0 783.9 L618.0 781.8 L621.0 779.7 L624.0 777.6 L627.0 775.5 L630.0 773.3 L633.0 771.1 L636.0 768.9 L639.0 766.6 L642.0 764.3 L645.0 762.0 L648.0 759.6 L651.0 757.2 L654.0 754.8 L657.0 752.3 L660.0 749.8 L663.0 747.3 L666.0 744.7 L669.0 742.1 L672.0 739.4 L675.0 736.8 L678.0 734.0 L681.0 731.3 L684.0 728.5 L687.0 725.7 L690.0 722.8 L693.0 719.9 L696.0 717.0 L699.0 714.1 L702.0 711.1 L705.0 708.1 L708.0 705.1 L711.0 702.0 L714.0 699.0 L717.0 695.9 L720.0 692.8 L723.0 689.7 L726.0 686.5 L729.0 683.4 L732.0 680.2 L735.0 677.1 L738.0 673.9 L741.0 670.8 L744.0 667.6 L747.0 664.4 L750.0 661.3 L753.0 658.1 L756.0 654.9 L759.0 651.8 L762.0 648.7 L765.0 645.6 L768.0 642.5 L771.0 639.4 L774.0 636.4 L777.0 633.3 L780.0 630.3 L783.0 627.4 L786.0 624.4 L789.0 621.5 L792.0 618.7 L795.0 615.8 L798.0 613.0 L801.0 610.3 L804.0 607.6 L807.0 604.9 L810.0 602.3 L813.0 599.7 L816.0 597.2 L819.0 594.7 L822.0 592.3 L825.0 589.9 L828.0 587.6 L831.0 585.3 L834.0 583.1 L837.0 580.9 L840.0 578.8 L843.0 576.8 L846.0 574.8 L849.0 572.9 L852.0 571.0 L855.0 569.2 L858.0 567.5 L861.0 565.8 L864.0 564.2 L867.0 562.7 L870.0 561.2 L873.0 559.8 L876.0 558.5 L879.0 557.2 L882.0 556.0 L885.0 554.9 L888.0 553.8 L891.0 552.9 L894.0 552.0 L897.0 551.1 L900.0 550.4 L903.0 549.7 L906.0 549.2 L909.0 548.6 L912.0 548.2 L915.0 547.9 L918.0 547.6 L921.0 547.5 L924.0 547.4 L927.0 547.4 L930.0 547.6 L933.0 547.8 L936.0 548.1 L939.0 548.5 L942.0 549.0 L945.0 549.6 L948.0 550.3 L951.0 551.1 L954.0 552.1 L957.0 553.1 L960.0 554.3 L963.0 555.5 L966.0 556.9 L969.0 558.4 L972.0 560.0 L975.0 561.7 L978.0 563.5 L981.0 565.5 L984.0 567.5 L987.0 569.7 L990.0 572.0 L993.0 574.4 L996.0 576.9 L999.0 579.5 L1002.0 582.3 L1005.0 585.1 L1008.0 588.1 L1011.0 591.1 L1014.0 594.3 L1017.0 597.5 L1020.0 600.9 L1023.0 604.4 L1026.0 607.9 L1029.0 611.5 L1032.0 615.2 L1035.0 619.0 L1038.0 622.9 L1041.0 626.9 L1044.0 630.9 L1047.0 634.9 L1050.0 639.1 L1053.0 643.3 L1056.0 647.5 L1059.0 651.8 L1062.0 656.1 L1065.0 660.4 L1068.0 664.8 L1071.0 669.2 L1074.0 673.6 L1077.0 678.0 L1080.0 682.5 L1083.0 686.9 L1086.0 691.3 L1089.0 695.8 L1092.0 700.2 L1095.0 704.6 L1098.0 709.0 L1101.0 713.3 L1104.0 717.7 L1107.0 722.0 L1110.0 726.3 L1113.0 730.5 L1116.0 734.7 L1119.0 738.8 L1122.0 742.9 L1125.0 746.9 L1128.0 750.9 L1131.0 754.9 L1134.0 758.8 L1137.0 762.6 L1140.0 766.3 L1143.0 770.0 L1146.0 773.7 L1149.0 777.2 L1152.0 780.7 L1155.0 784.2 L1158.0 787.6 L1161.0 790.9 L1164.0 794.1 L1167.0 797.3 L1170.0 800.4 L1173.0 803.4 L1176.0 806.4 L1179.0 809.3 L1182.0 812.1 L1185.0 814.9 L1188.0 817.6 L1191.0 820.2 L1194.0 822.8 L1197.0 825.3 L1200.0 827.8 L1203.0 830.2 L1206.0 832.5 L1209.0 834.8 L1212.0 837.0 L1215.0 839.1 L1218.0 841.2 L1221.0 843.3 L1224.0 845.3 L1227.0 847.2 L1230.0 849.1 L1233.0 850.9 L1236.0 852.7 L1239.0 854.4 L1242.0 856.1 L1245.0 857.8 L1248.0 859.4 L1251.0 860.9 L1254.0 862.4 L1257.0 863.9 L1260.0 865.3 L1263.0 866.7 L1266.0 868.1 L1269.0 869.4 L1272.0 870.7 L1275.0 871.9 L1278.0 873.1 L1281.0 874.3 L1284.0 875.4 L1287.0 876.5 L1290.0 877.6 L1293.0 878.7 L1296.0 879.7 L1299.0 880.7 L1302.0 881.6 L1305.0 882.6 L1308.0 883.5 L1311.0 884.3 L1314.0 885.2 L1317.0 886.0 L1320.0 886.8 L1323.0 887.6 L1326.0 888.4 L1329.0 889.1 L1332.0 889.9 L1335.0 890.6 L1338.0 891.3 L1341.0 891.9 L1344.0 892.6 L1347.0 893.2 L1350.0 893.8 L1353.0 894.4 L1356.0 895.0 L1359.0 895.6 L1362.0 896.2 L1365.0 896.7 L1368.0 897.2 L1371.0 897.8 L1374.0 898.3 L1377.0 898.8 L1380.0 899.3 L1383.0 899.7 L1386.0 900.2 L1389.0 900.6 L1392.0 901.1 L1395.0 901.5 L1398.0 901.9 L1401.0 902.4 L1404.0 902.8 L1407.0 903.2 L1410.0 903.6 L1413.0 904.0 L1416.0 904.3 L1419.0 904.7 L1422.0 905.1 L1425.0 905.5 L1428.0 905.8 L1431.0 906.2 L1434.0 906.5 L1437.0 906.9 L1440.0 907.2 L1443.0 907.5 L1446.0 907.9 L1449.0 908.2 L1452.0 908.5 L1455.0 908.8 L1458.0 909.1 L1461.0 909.5 L1464.0 909.8 L1467.3 910.1"/>
<path class="curve" stroke="#800060" d="M270.0 734.2 L273.0 737.0 L276.0 739.7 L279.0 742.4 L282.0 745.1 L285.0 747.6 L288.0 750.2 L291.0 752.6 L294.0 755.1 L297.0 757.4 L300.0 759.7 L303.0 762.0 L306.0 764.2 L309.0 766.3 L312.0 768.4 L315.0 770.4 L318.0 772.4 L321.0 774.3 L324.0 776.2 L327.0 778.0 L330.0 779.7 L333.0 781.4 L336.0 783.0 L339.0 784.6 L342.0 786.1 L345.0 787.6 L348.0 789.0 L351.0 790.3 L354.0 791.6 L357.0 792.8 L360.0 793.9 L363.0 795.0 L366.0 796.0 L369.0 797.0 L372.0 797.9 L375.0 798.7 L378.0 799.4 L381.0 800.1 L384.0 800.7 L387.0 801.3 L390.0 801.8 L393.0 802.2 L396.0 802.5 L399.0 802.8 L402.0 803.0 L405.0 803.1 L408.0 803.1 L411.0 803.1 L414.0 803.0 L417.0 802.8 L420.0 802.5 L423.0 802.1 L426.0 801.7 L429.0 801.2 L432.0 800.6 L435.0 800.0 L438.0 799.2 L441.0 798.4 L444.0 797.5 L447.0 796.5 L450.0 795.4 L453.0 794.3 L456.0 793.0 L459.0 791.7 L462.0 790.4 L465.0 788.9 L468.0 787.3 L471.0 785.7 L474.0 784.0 L477.0 782.3 L480.0 780.4 L483.0 778.5 L486.0 776.5 L489.0 774.5 L492.0 772.3 L495.0 770.2 L498.0 767.9 L501.0 765.6 L504.0 763.2 L507.0 760.8 L510.0 758.2 L513.0 755.7 L516.0 753.1 L519.0 750.4 L522.0 747.7 L525.0 744.9 L528.0 742.1 L531.0 739.2 L534.0 736.3 L537.0 733.3 L540.0 730.3 L543.0 727.3 L546.0 724.2 L549.0 721.0 L552.0 717.9 L555.0 714.6 L558.0 711.4 L561.0 708.1 L564.0 704.8 L567.0 701.4 L570.0 698.0 L573.0 694.5 L576.0 691.0 L579.0 687.5 L582.0 683.9 L585.0 680.3 L588.0 676.6 L591.0 672.9 L594.0 669.1 L597.0 665.3 L600.0 661.4 L603.0 657.4 L606.0 653.4 L609.0 649.3 L612.0 645.2 L615.0 641.0 L618.0 636.7 L621.0 632.4 L624.0 627.9 L627.0 623.4 L630.0 618.8 L633.0 614.1 L636.0 609.4 L639.0 604.5 L642.0 599.6 L645.0 594.6 L648.0 589.4 L651.0 584.2 L654.0 578.9 L657.0 573.5 L660.0 568.0 L663.0 562.5 L666.0 556.8 L669.0 551.0 L672.0 545.2 L675.0 539.3 L678.0 533.3 L681.0 527.2 L684.0 521.1 L687.0 514.9 L690.0 508.6 L693.0 502.3 L696.0 495.9 L699.0 489.5 L702.0 483.1 L705.0 476.6 L708.0 470.1 L711.0 463.5 L714.0 457.0 L717.0 450.4 L720.0 443.8 L723.0 437.3 L726.0 430.7 L729.0 424.1 L732.0 417.5 L735.0 410.9 L738.0 404.4 L741.0 397.8 L744.0 391.3 L747.0 384.7 L750.0 378.2 L753.0 371.7 L756.0 365.2 L759.0 358.7 L762.0 352.2 L765.0 345.7 L768.0 339.1 L771.0 332.6 L774.0 326.1 L777.0 319.6 L780.0 313.1 L783.0 306.5 L786.0 300.0 L789.0 293.4 L792.0 286.9 L795.0 280.3 L798.0 273.8 L801.0 267.2 L804.0 260.7 L807.0 254.2 L810.0 247.8 L813.0 241.3 L816.0 235.0 L819.0 228.7 L822.0 222.4 L825.0 216.3 L828.0 210.2 L831.0 204.3 L834.0 198.5 L837.0 192.9 L840.0 187.4 L843.0 182.1 L846.0 177.0 L849.0 172.0 L852.0 167.3 L855.0 162.7 L858.0 158.4 L861.0 154.3 L864.0 150.5 L867.0 146.8 L870.0 143.4 L873.0 140.3 L876.0 137.3 L879.0 134.6 L882.0 132.1 L885.0 129.8 L888.0 127.8 L891.0 125.9 L894.0 124.2 L897.0 122.8 L900.0 121.5 L903.0 120.4 L906.0 119.5 L909.0 118.7 L912.0 118.2 L915.0 117.7 L918.0 117.5 L921.0 117.4 L924.0 117.4 L927.0 117.6 L930.0 117.9 L933.0 118.5 L936.0 119.1 L939.0 120.0 L942.0 121.0 L945.0 122.2 L948.0 123.6 L951.0 125.2 L954.0 127.0 L957.0 129.0 L960.0 131.3 L963.0 133.7 L966.0 136.5 L969.0 139.4 L972.0 142.6 L975.0 146.1 L978.0 149.9 L981.0 153.9 L984.0 158.2 L987.0 162.8 L990.0 167.7 L993.0 172.9 L996.0 178.3 L999.0 184.1 L1002.0 190.1 L1005.0 196.5 L1008.0 203.1 L1011.0 210.0 L1014.0 217.1 L1017.0 224.5 L1020.0 232.2 L1023.0 240.1 L1026.0 248.2 L1029.0 256.6 L1032.0 265.2 L1035.0 273.9 L1038.0 282.9 L1041.0 292.0 L1044.0 301.3 L1047.0 310.7 L1050.0 320.3 L1053.0 329.9 L1056.0 339.7 L1059.0 349.6 L1062.0 359.5 L1065.0 369.5 L1068.0 379.5 L1071.0 389.6 L1074.0 399.6 L1077.0 409.7 L1080.0 419.8 L1083.0 429.8 L1086.0 439.8 L1089.0 449.7 L1092.0 459.6 L1095.0 469.5 L1098.0 479.2 L1101.0 488.9 L1104.0 498.4 L1107.0 507.9 L1110.0 517.2 L1113.0 526.4 L1116.0 535.5 L1119.0 544.4 L1122.0 553.3 L1125.0 561.9 L1128.0 570.4 L1131.0 578.8 L1134.0 587.0 L1137.0 595.1 L1140.0 602.9 L1143.0 610.7 L1146.0 618.2 L1149.0 625.6 L1152.0 632.8 L1155.0 639.9 L1158.0 646.8 L1161.0 653.5 L1164.0 660.1 L1167.0 666.5 L1170.0 672.8 L1173.0 678.9 L1176.0 684.8 L1179.0 690.6 L1182.0 696.2 L1185.0 701.7 L1188.0 707.0 L1191.0 712.2 L1194.0 717.3 L1197.0 722.2 L1200.0 727.0 L1203.0 731.6 L1206.0 736.1 L1209.0 740.6 L1212.0 744.8 L1215.0 749.0 L1218.0 753.1 L1221.0 757.0 L1224.0 760.9 L1227.0 764.6 L1230.0 768.2 L1233.0 771.8 L1236.0 775.2 L1239.0 778.6 L1242.0 781.9 L1245.0 785.0 L1248.0 788.2 L1251.0 791.2 L1254.0 794.1 L1257.0 797.0 L1260.0 799.8 L1263.0 802.6 L1266.0 805.3 L1269.0 807.9 L1272.0 810.4 L1275.0 812.9 L1278.0 815.3 L1281.0 817.7 L1284.0 820.0 L1287.0 822.3 L1290.0 824.5 L1293.0 826.7 L1296.0 828.8 L1299.0 830.9 L1302.0 832.9 L1305.0 834.9 L1308.0 836.9 L1311.0 838.8 L1314.0 840.6 L1317.0 842.5 L1320.0 844.2 L1323.0 846.0 L1326.0 847.7 L1329.0 849.4 L1332.0 851.0 L1335.0 852.6 L1338.0 854.2 L1341.0 855.7 L1344.0 857.2 L1347.0 858.7 L1350.0 860.1 L1353.0 861.5 L1356.0 862.9 L1359.0 864.2 L1362.0 865.6 L1365.0 866.8 L1368.0 868.1 L1371.0 869.3 L1374.0 870.5 L1377.0 871.7 L1380.0 872.9 L1383.0 874.0 L1386.0 875.1 L1389.0 876.2 L1392.0 877.2 L1395.0 878.2 L1398.0 879.2 L1401.0 880.2 L1404.0 881.2 L1407.0 882.1 L1410.0 883.0 L1413.0 883.9 L1416.0 884.7 L1419.0 885.6 L1422.0 886.4 L1425.0 887.2 L1428.0 888.0 L1431.0 888.7 L1434.0 889.5 L1437.0 890.2 L1440.0 890.9 L1443.0 891.6 L1446.0 892.2 L1449.0 892.9 L1452.0 893.5 L1455.0 894.1 L1458.0 894.7 L1461.0 895.3 L1464.0 895.8 L1467.3 896.4"/>
</g>
<!-- legend -->
<g clip-path="url(#c3)"><text class="lt" y="255.7"><tspan x="1482.7" y="254.4" style="font-size:60.3px">[</tspan><tspan x="1502" y="255.7" style="font-family:'Liberation Serif',serif">µ</tspan><tspan x="1535.2">g</tspan><tspan x="1575.3" y="243.3" style="font-size:16px;stroke-width:7.5px">·</tspan><tspan x="1585.8" y="255.7">m</tspan><tspan x="1636">L</tspan><tspan x="1669.9" y="238.1" style="font-size:41.4px;stroke-width:1.8px">−</tspan><tspan x="1696.1" y="234.7" style="font-size:41.4px">1</tspan><tspan x="1718.6" y="254.4" style="font-size:60.3px">]</tspan></text></g>
<g class="curve" shape-rendering="crispEdges">
<path stroke="#800060" d="M1506.9 329.4 H1602.9"/>
<path stroke="#cc0099" d="M1506.9 418 H1602.9"/>
<path stroke="#ff00cc" d="M1506.9 506 H1602.9"/>
<path stroke="#ff73ff" d="M1506.9 594.5 H1602.9"/>
<path stroke="#ffbef2" d="M1506.9 682.9 H1602.9"/>
<path stroke="#f5d9f9" d="M1506.9 769 H1602.9"/>
</g>
<g clip-path="url(#c4)"><text class="leg" transform="scale(0.98,1)" x="1647.76 1677.04 1707.86" y="341.3">128</text></g>
<text class="leg" transform="scale(0.98,1)" x="1645.61 1674.49" y="429.9">64</text>
<text class="leg" transform="scale(0.98,1)" x="1645.51 1676.63" y="518.2">32</text>
<g clip-path="url(#c5)"><text class="leg" transform="scale(0.98,1)" x="1647.76 1676.53" y="606.9">16</text></g>
<text class="leg" transform="scale(0.98,1)" x="1645.2" y="695.7">8</text>
<text class="leg" transform="scale(0.98,1)" x="1646.43" y="782.9">4</text>
</svg>
</body>
</html>
